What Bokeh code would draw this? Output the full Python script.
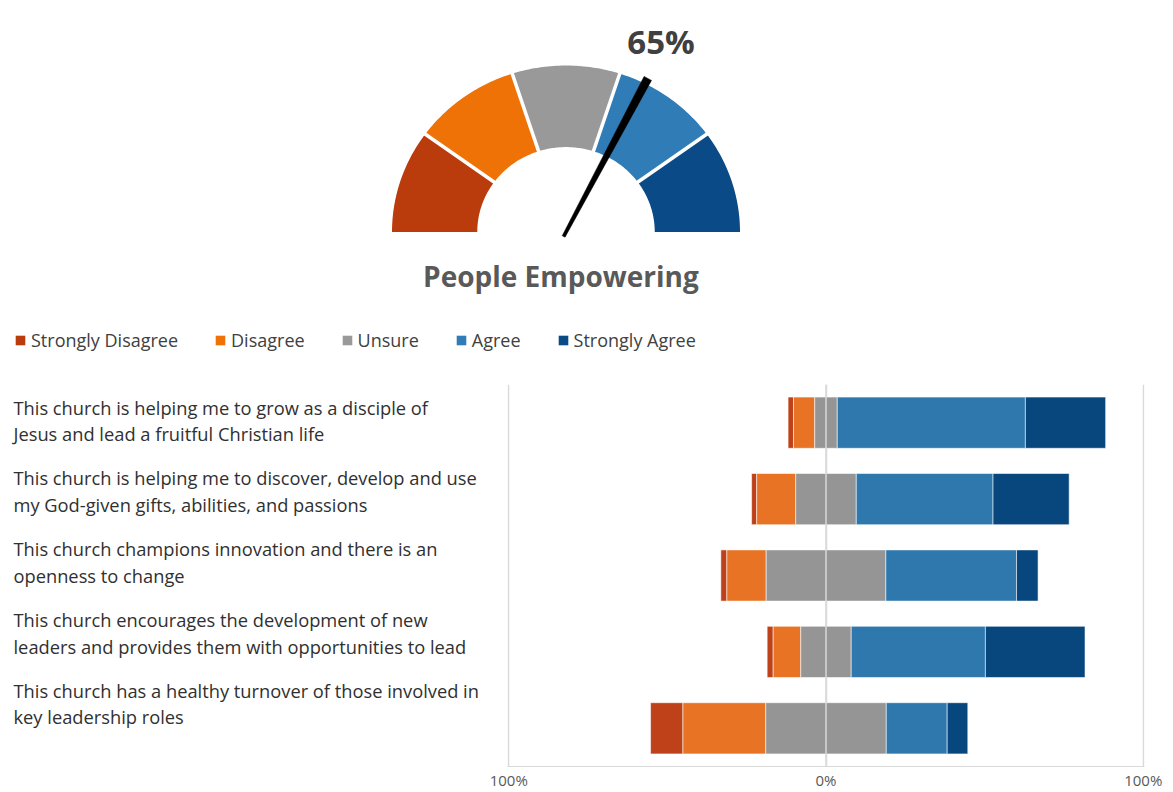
import numpy as np
from bokeh.plotting import figure
from bokeh.models import (Range1d, FactorRange, FixedTicker, Legend, LegendItem,
                          Span, ColumnDataSource)
from bokeh.layouts import column, row
from bokeh.core.properties import value
from bokeh.embed import file_html
from bokeh.resources import INLINE

# ---------------- data ----------------
gauge_value = 0.65
gauge_label = "65%"
gauge_title = "People Empowering"
levels = ["Strongly Disagree", "Disagree", "Unsure", "Agree", "Strongly Agree"]
statements = [
    "This church is helping me to grow as a disciple of\nJesus and lead a fruitful Christian life",
    "This church is helping me to discover, develop and use\nmy God-given gifts, abilities, and passions",
    "This church champions innovation and there is an\nopenness to change",
    "This church encourages the development of new\nleaders and provides them with opportunities to lead",
    "This church has a healthy turnover of those involved in\nkey leadership roles",
]
strongly_disagree = [1.7, 1.6, 1.9, 1.9, 10.2]
disagree = [6.7, 12.3, 12.4, 8.7, 26.1]
unsure = [7.1, 19.1, 37.7, 15.9, 38.0]
agree = [59.3, 43.1, 41.2, 42.3, 19.2]
strongly_agree = [25.3, 24.0, 6.8, 31.4, 6.5]
tick_values = [-100, 0, 100]
tick_labels = ["100%", "0%", "100%"]

bar_colors = ["#BE4119", "#E97324", "#959595", "#2E78AE", "#08467E"]
gauge_colors = ["#BA3C0C", "#EE7206", "#999999", "#2F7CB6", "#0A4A86"]
FONT = "Open Sans"

# ---------------- gauge figure ----------------
W, GH = 1173, 365
sx, sy = 174.0, 166.5          # px per data unit (slightly flattened gauge)
cx, cy = 565.5, 231.5          # gauge centre in canvas px (from top-left)
g = figure(width=W, height=GH, output_backend="svg", toolbar_location=None,
           x_range=Range1d(-cx / sx, (W - cx) / sx),
           y_range=Range1d(-(GH - cy) / sy, cy / sy),
           x_axis_location=None, y_axis_location=None, min_border=0,
           outline_line_color=None)
g.grid.visible = False

n = len(levels)
r_in, r_out = 0.51, 1.0
items = []
for i in range(n):
    a0 = np.pi - i * np.pi / n
    a1 = np.pi - (i + 1) * np.pi / n
    t = np.linspace(a0, a1, 40)
    xs = np.concatenate([r_out * np.cos(t), r_in * np.cos(t[::-1])])
    ys = np.concatenate([r_out * np.sin(t), r_in * np.sin(t[::-1])])
    rr = g.patch(xs, ys, fill_color=gauge_colors[i], line_color=None)
    items.append(LegendItem(label=levels[i], renderers=[rr]))

# white gaps between segments
ba = np.array([np.pi - k * np.pi / n for k in range(1, n)])
g.segment(x0=(r_in - 0.05) * np.cos(ba), y0=(r_in - 0.05) * np.sin(ba),
          x1=(r_out + 0.05) * np.cos(ba), y1=(r_out + 0.05) * np.sin(ba),
          line_color="white", line_width=3.5)

# needle
theta = np.pi * (1 - gauge_value)
d = np.array([np.cos(theta) * sx, np.sin(theta) * sy])
d = d / np.linalg.norm(d)
nrm = np.array([-d[1], d[0]])
tip = d * 174.0
base = -d * 5.0
pts = [base + nrm * 1.6, tip + nrm * 4.2, tip - nrm * 4.2, base - nrm * 1.6]
g.patch([p[0] / sx for p in pts], [p[1] / sy for p in pts],
        fill_color="black", line_color="black", line_width=0.5)

g.text(x=[0.546], y=[1.146], text=[gauge_label], text_font=value(FONT),
       text_font_style="bold", text_font_size="33px", text_color="#404040",
       text_align="center", text_baseline="alphabetic")
g.text(x=[-0.029], y=[-0.264], text=[gauge_title], text_font=value(FONT),
       text_font_style="bold", text_font_size="28px", text_color="#595959",
       text_align="center", text_baseline="alphabetic")

legend = Legend(items=items, orientation="horizontal", location=(14, 13),
                glyph_width=12, glyph_height=12, label_standoff=5, spacing=36,
                padding=0, margin=0, border_line_color=None,
                background_fill_alpha=0, label_text_font=FONT,
                label_text_font_size="18px", label_text_color="#404040")
g.add_layout(legend)

# ---------------- bar chart ----------------
BH = 427
TOP, BOT = 19, 26
yr = FactorRange(factors=list(reversed(statements)))

vals = np.array([strongly_disagree, disagree, unsure, agree, strongly_agree])
start = -(vals[0] + vals[1] + vals[2] / 2.0)
cum = np.cumsum(vals, axis=0)
rights = start + cum
lefts = start + np.vstack([np.zeros(vals.shape[1]), cum[:-1]])

LW = 486
b = figure(width=W - LW, height=BH, output_backend="svg", toolbar_location=None,
           y_range=yr, x_range=Range1d(-100.4, 100.4), y_axis_location=None,
           min_border_left=21, min_border_right=29, min_border_top=TOP,
           min_border_bottom=BOT, outline_line_color=None)
for i in range(n):
    b.hbar(y=statements, left=lefts[i], right=rights[i], height=0.67,
           fill_color=bar_colors[i], line_color="white", line_alpha=0.55,
           line_width=1)
b.add_layout(Span(location=0, dimension="height", line_color="#d9d9d9",
                  line_width=1.5))
b.ygrid.visible = False
b.xgrid.ticker = FixedTicker(ticks=tick_values)
b.xgrid.grid_line_color = "#d9d9d9"
b.xgrid.grid_line_width = 1.5


def style_axis(ax):
    ax.major_tick_line_color = None
    ax.minor_tick_line_color = None
    ax.major_tick_out = 0
    ax.major_label_standoff = 3
    ax.major_label_text_font = FONT
    ax.major_label_text_font_size = "15px"


b.xaxis.ticker = FixedTicker(ticks=tick_values)
b.xaxis.major_label_overrides = {v: l for v, l in zip(tick_values, tick_labels)}
b.xaxis.axis_line_color = "#d9d9d9"
style_axis(b.xaxis)
b.xaxis.major_label_text_color = "#595959"

# ---------------- label figure ----------------
lf = figure(width=LW, height=BH, output_backend="svg", toolbar_location=None,
            y_range=yr, x_range=Range1d(0, LW), y_axis_location=None,
            min_border_left=0, min_border_right=0, min_border_top=TOP,
            min_border_bottom=BOT, outline_line_color=None)
lf.grid.visible = False
lf.xaxis.ticker = FixedTicker(ticks=[LW / 2])
lf.xaxis.major_label_overrides = {LW / 2: "0%"}
lf.xaxis.axis_line_color = None
style_axis(lf.xaxis)
lf.xaxis.major_label_text_alpha = 0
label_src = ColumnDataSource(dict(
    x=[13] * len(statements), y=statements, text=statements,
    dy=[-2.5 - 5.5 * i for i in range(len(statements))]))
lf.text(x="x", y="y", text="text", y_offset="dy", source=label_src,
        text_font=value(FONT), text_font_size="18.3px", text_color="#303030",
        text_align="left", text_baseline="middle", text_line_height=1.05)

layout = column(g, row(lf, b))
open("out.html", "w").write(file_html(layout, INLINE))
